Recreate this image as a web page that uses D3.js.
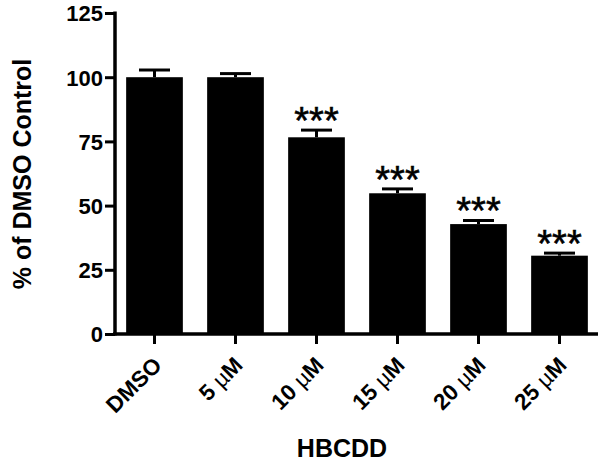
<!DOCTYPE html>
<html>
<head>
<meta charset="utf-8">
<script src="https://cdn.jsdelivr.net/npm/d3@7"></script>
<style>
  html, body { margin: 0; padding: 0; background: #fff; }
  svg { display: block; }
  text { font-family: "Liberation Sans", Arial, sans-serif; }
</style>
</head>
<body>
<svg id="chart" width="600" height="463"></svg>
<script>
const categories = ["DMSO", "5", "10", "15", "20", "25"];
const unitLabels = ["", "\u00B5M", "\u00B5M", "\u00B5M", "\u00B5M", "\u00B5M"];
const values = [100, 100, 76.6, 54.8, 42.8, 30.5];
const errors = [2.8, 1.4, 2.8, 1.7, 1.4, 1.0];
const significance = ["", "", "***", "***", "***", "***"];
const yTicks = [0, 25, 50, 75, 100, 125];
const yTitle = "% of DMSO Control";
const xTitle = "HBCDD";

const svg = d3.select("#chart");
const x = d3.scaleBand().domain(categories).range([114, 600]).paddingInner(0.3).paddingOuter(0.15);
const y = d3.scaleLinear().domain([0, 125]).range([334, 13]);

// bars
svg.selectAll("rect.bar").data(values).join("rect")
  .attr("class", "bar")
  .attr("x", (d, i) => x(categories[i]))
  .attr("width", x.bandwidth())
  .attr("y", d => y(d))
  .attr("height", d => y(0) - y(d))
  .attr("fill", "#000");

// error bars
const eb = svg.append("g").attr("stroke", "#000").attr("stroke-width", 3);
values.forEach((v, i) => {
  const cx = x(categories[i]) + x.bandwidth() / 2;
  eb.append("line").attr("x1", cx).attr("x2", cx).attr("y1", y(v)).attr("y2", y(v + errors[i]));
  eb.append("line").attr("x1", cx - 15.5).attr("x2", cx + 15.5).attr("y1", y(v + errors[i])).attr("y2", y(v + errors[i]));
});

// significance stars
svg.selectAll("text.sig").data(significance).join("text")
  .attr("class", "sig")
  .attr("x", (d, i) => x(categories[i]) + x.bandwidth() / 2)
  .attr("y", (d, i) => y(values[i] + errors[i]) + 4)
  .attr("text-anchor", "middle")
  .attr("font-size", 38)
  .attr("stroke", "#000")
  .attr("stroke-width", 0.6)
  .text(d => d);

// y axis
const yAxis = d3.axisLeft(y).tickValues(yTicks).tickSize(10).tickSizeOuter(0).tickPadding(2);
const gy = svg.append("g").attr("transform", "translate(115,0)").call(yAxis);
gy.select(".domain").attr("stroke-width", 3.5).attr("d", `M0,${y(125) - 1.5}V${y(0) + 1.5}`);
gy.selectAll(".tick line").attr("stroke-width", 3);
gy.selectAll(".tick text").attr("font-size", 22).attr("font-weight", "bold").attr("fill", "#000").attr("dy", "0.36em");

// x axis
const xAxis = d3.axisBottom(x).tickSize(10).tickSizeOuter(0).tickFormat(() => "");
const gx = svg.append("g").attr("transform", `translate(0,${y(0)})`).call(xAxis);
gx.select(".domain").attr("stroke-width", 3.5).attr("d", "M113,0H598");
gx.selectAll(".tick line").attr("stroke-width", 3);

// x labels rotated
categories.forEach((c, i) => {
  const cx = x(c) + x.bandwidth() / 2;
  const t = svg.append("text")
    .attr("transform", `translate(${cx + 3},${y(0) + 27}) rotate(-45)`)
    .attr("text-anchor", "end")
    .attr("font-size", 22.5)
    .attr("font-weight", "bold")
    .attr("dy", "0.35em");
  t.append("tspan").text(c);
  if (unitLabels[i]) {
    t.append("tspan").text(" ");
    t.append("tspan").attr("font-weight", "normal").text(unitLabels[i][0]);
    t.append("tspan").text(unitLabels[i].slice(1));
  }
});

// axis titles
svg.append("text")
  .attr("transform", "translate(31,174) rotate(-90)")
  .attr("text-anchor", "middle")
  .attr("font-size", 25)
  .attr("font-weight", "bold")
  .text(yTitle);

svg.append("text")
  .attr("x", 342).attr("y", 457)
  .attr("text-anchor", "middle")
  .attr("font-size", 25)
  .attr("font-weight", "bold")
  .text(xTitle);
</script>
</body>
</html>
